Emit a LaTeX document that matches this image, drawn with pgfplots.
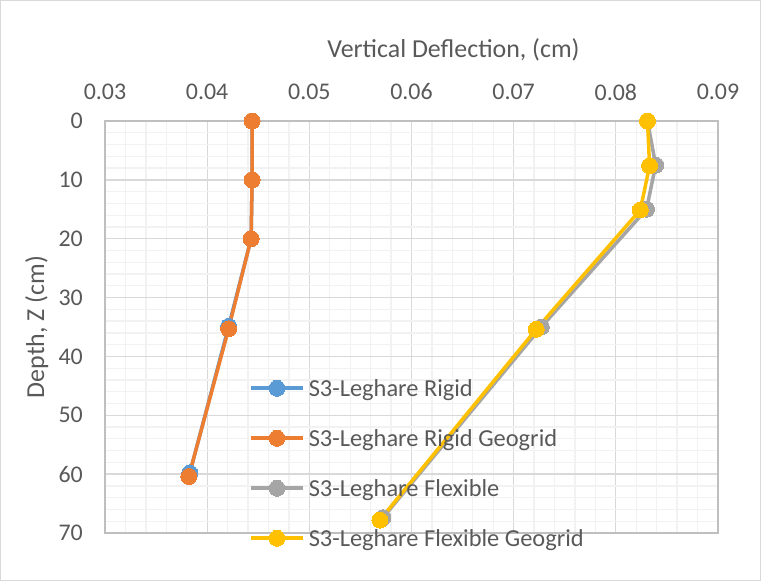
\documentclass[border=0pt]{standalone}
\usepackage{fontspec}
\setmainfont{Carlito}
\usepackage{pgfplots}
\pgfplotsset{compat=1.18}
\definecolor{cBlue}{HTML}{5B9BD5}
\definecolor{cOrange}{HTML}{ED7D31}
\definecolor{cGray}{HTML}{A5A5A5}
\definecolor{cYellow}{HTML}{FFC000}
\definecolor{textc}{HTML}{595959}
\definecolor{gridmaj}{HTML}{D9D9D9}
\definecolor{gridmin}{HTML}{F2F2F2}
\definecolor{axisc}{HTML}{BFBFBF}
\begin{document}
\begin{tikzpicture}
\useasboundingbox (-105bp,-48bp) rectangle (656bp,533bp);
\draw[draw=gridmaj, line width=1bp] (-104.5bp,-47.5bp) rectangle (655.5bp,532.5bp);
\begin{axis}[
  at={(0,0)}, anchor=south west,
  scale only axis, width=613bp, height=412bp,
  xmin=0.03, xmax=0.09, ymin=0, ymax=70, y dir=reverse,
  xtick={0.03,0.04,0.05,0.06,0.07,0.08,0.09},
  ytick={0,10,20,30,40,50,60,70},
  minor x tick num=4, minor y tick num=4,
  grid=both,
  major grid style={draw=gridmaj, line width=1.3bp},
  minor grid style={draw=gridmin, line width=1.3bp},
  axis line style={draw=axisc, line width=1.3bp},
  major tick length=0pt, minor tick length=0pt,
  scaled x ticks=false,
  xticklabel pos=upper,
  /pgf/number format/assume math mode=true,
  xticklabel style={font=\fontsize{24}{29}\selectfont, text=textc, anchor=center, yshift=29bp,
    /pgf/number format/fixed, /pgf/number format/fixed zerofill, /pgf/number format/precision=2},
  yticklabel style={font=\fontsize{24}{29}\selectfont, text=textc, anchor=east, inner sep=0pt, xshift=-22bp},
  xlabel={Vertical Deflection, (cm)},
  xlabel style={at={(axis description cs:0.5685,1.1553)}, anchor=base, font=\fontsize{26}{31}\selectfont, text=textc},
  ylabel={Depth, Z (cm)},
  ylabel style={at={(axis description cs:-0.0995,0.5)}, anchor=base, font=\fontsize{26}{31}\selectfont, text=textc},
  clip=false,
  legend cell align=left,
  legend style={draw=none, fill=none, at={(axis description cs:0.2350,0.3786)}, anchor=north west,
    inner sep=0pt, row sep=28bp, column sep=4bp,
    nodes={inner sep=0pt, text height=19bp, text depth=3bp, font=\fontsize{24.5}{29}\selectfont, text=textc}},
  legend image code/.code={\draw[mark repeat=2,mark phase=2] plot coordinates {(0bp,0bp) (26bp,0bp) (52bp,0bp)};},
  every axis plot/.append style={line width=3.5bp, line join=round, mark=*, mark size=8bp},
]
\addplot[color=cBlue, mark options={solid, fill=cBlue, draw=cBlue, line width=0pt}] coordinates {
  (0.0444,0) (0.0444,10) (0.0443,20) (0.0421,34.9) (0.0383,59.8)};
\addlegendentry{S3-Leghare Rigid}
\addplot[color=cOrange, mark options={solid, fill=cOrange, draw=cOrange, line width=0pt}] coordinates {
  (0.0444,0) (0.0444,10) (0.0443,20) (0.0421,35.3) (0.0382,60.4)};
\addlegendentry{S3-Leghare Rigid Geogrid}
\addplot[color=cGray, mark options={solid, fill=cGray, draw=cGray, line width=0pt}] coordinates {
  (0.0831,0) (0.0839,7.5) (0.0830,15) (0.0727,35) (0.0572,67.4)};
\addlegendentry{S3-Leghare Flexible}
\addplot[color=cYellow, mark options={solid, fill=cYellow, draw=cYellow, line width=0pt}] coordinates {
  (0.0831,0) (0.0833,7.6) (0.0824,15.1) (0.0722,35.4) (0.0569,67.8)};
\addlegendentry{S3-Leghare Flexible Geogrid}
\end{axis}
\end{tikzpicture}
\end{document}
